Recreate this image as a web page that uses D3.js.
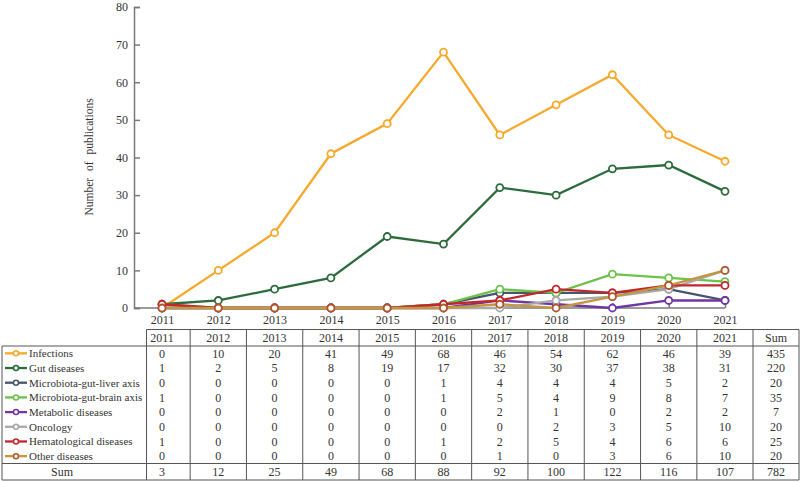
<!DOCTYPE html>
<html>
<head>
<meta charset="utf-8">
<script src="https://cdn.jsdelivr.net/npm/d3@7"></script>
<style>
  body { margin: 0; background: #fff; }
  svg text { font-family: 'Liberation Serif', 'DejaVu Serif', serif; }
</style>
</head>
<body>
<svg width="800" height="482"></svg>
<script>
const svg = d3.select('svg');
const FONT = "'Liberation Serif', 'DejaVu Serif', serif";

const years = [2011, 2012, 2013, 2014, 2015, 2016, 2017, 2018, 2019, 2020, 2021];
const seriesNames = ['Infections', 'Gut diseases', 'Microbiota-gut-liver axis', 'Microbiota-gut-brain axis',
  'Metabolic diseases', 'Oncology', 'Hematological diseases', 'Other diseases'];
const infections = [0, 10, 20, 41, 49, 68, 46, 54, 62, 46, 39];
const gut = [1, 2, 5, 8, 19, 17, 32, 30, 37, 38, 31];
const liver = [0, 0, 0, 0, 0, 1, 4, 4, 4, 5, 2];
const brain = [1, 0, 0, 0, 0, 1, 5, 4, 9, 8, 7];
const metabolic = [0, 0, 0, 0, 0, 0, 2, 1, 0, 2, 2];
const oncology = [0, 0, 0, 0, 0, 0, 0, 2, 3, 5, 10];
const hematological = [1, 0, 0, 0, 0, 1, 2, 5, 4, 6, 6];
const other = [0, 0, 0, 0, 0, 0, 1, 0, 3, 6, 10];
const yTicks = [0, 10, 20, 30, 40, 50, 60, 70, 80];

const lineColors = ['#f6a92c', '#2c6b3c', '#47566c', '#6cc24a', '#7036a4', '#a8a8a8', '#c1272d', '#c4963f'];
const markColors = ['#f6a92c', '#2c6b3c', '#47566c', '#6cc24a', '#7036a4', '#a8a8a8', '#c1272d', '#b0552c'];

const values = [infections, gut, liver, brain, metabolic, oncology, hematological, other];
const series = seriesNames.map((name, i) => ({
  name, vals: values[i], line: lineColors[i], mark: markColors[i]
}));
const sums = years.map((y, j) => d3.sum(values, v => v[j]));

/////////////// scales ///////////////
const x = d3.scalePoint().domain(years).range([162, 725]);
const y = d3.scaleLinear().domain([0, 80]).range([308, 7]);
const axisColor = '#7a7a7a';

// y axis
const yAxis = svg.append('g')
  .attr('transform', 'translate(134,0)')
  .call(d3.axisLeft(y).tickValues(yTicks).tickSize(-6).tickPadding(6));
yAxis.attr('font-family', FONT);
yAxis.select('.domain').attr('stroke', axisColor).attr('stroke-width', 1.5);
yAxis.selectAll('.tick line').attr('stroke', axisColor).attr('stroke-width', 1.5);
yAxis.selectAll('text').attr('font-size', 12).attr('fill', '#333');

// x axis
const xAxis = svg.append('g')
  .attr('transform', 'translate(0,308)')
  .call(d3.axisBottom(x).tickSize(-5).tickPadding(7).tickSizeOuter(0));
xAxis.attr('font-family', FONT);
xAxis.select('.domain').attr('d', `M134,0H${x(2021)}`).attr('stroke', axisColor).attr('stroke-width', 1.5);
xAxis.selectAll('.tick line').attr('stroke', axisColor).attr('stroke-width', 1.5);
xAxis.selectAll('text').attr('font-size', 12).attr('fill', '#333');

svg.append('text')
  .attr('transform', 'translate(93,157) rotate(-90)')
  .attr('text-anchor', 'middle')
  .attr('font-size', 11.5)
  .attr('fill', '#333')
  .attr('word-spacing', 4)
  .text('Number of publications');

/////////////// lines ///////////////
const line = d3.line().x((d, i) => x(years[i])).y(d => y(d));

const g = svg.append('g');
series.forEach(s => {
  g.append('path')
    .attr('d', line(s.vals))
    .attr('fill', 'none')
    .attr('stroke', s.line)
    .attr('stroke-width', 2.3);
  g.selectAll(null)
    .data(s.vals)
    .enter()
    .append('circle')
    .attr('cx', (d, i) => x(years[i]))
    .attr('cy', d => y(d))
    .attr('r', 3.5)
    .attr('fill', '#fff')
    .attr('stroke', s.mark)
    .attr('stroke-width', 1.8);
});

/////////////// table ///////////////
const tTop = 329.5, headBottom = 346, sumTop = 463.5, tBottom = 480;
const rowH = (sumTop - headBottom) / seriesNames.length;
const colW = 56;
const labelRight = 146.5;
const sumRight = 799;
const borderCol = '#555';

// column borders (midway between years)
const borders = [labelRight];
years.forEach((yr, i) => borders.push(i < years.length - 1 ? (x(yr) + x(years[i + 1])) / 2 : x(yr) + colW / 2));
borders.push(sumRight);

const tg = svg.append('g').attr('stroke', borderCol).attr('stroke-width', 1).attr('fill', 'none');
borders.forEach(bx => {
  tg.append('line').attr('x1', bx).attr('x2', bx).attr('y1', tTop).attr('y2', tBottom);
});
tg.append('line').attr('x1', 2).attr('x2', 2).attr('y1', headBottom).attr('y2', tBottom);
tg.append('line').attr('x1', labelRight).attr('x2', sumRight).attr('y1', tTop).attr('y2', tTop);
[headBottom, sumTop, tBottom].forEach(ly => {
  tg.append('line').attr('x1', 2).attr('x2', sumRight).attr('y1', ly).attr('y2', ly);
});

const colCenters = years.map(yr => x(yr));
const sumCenter = (borders[borders.length - 2] + sumRight) / 2;
const txt = svg.append('g').attr('font-size', 12).attr('fill', '#333').attr('font-family', FONT);

// header
years.forEach((yr, i) => {
  txt.append('text').attr('x', colCenters[i]).attr('y', (tTop + headBottom) / 2 + 4.3)
    .attr('text-anchor', 'middle').text(yr);
});
txt.append('text').attr('x', sumCenter).attr('y', (tTop + headBottom) / 2 + 4.3)
  .attr('text-anchor', 'middle').text('Sum');

// series rows
series.forEach((s, r) => {
  const cy = headBottom + rowH * (r + 0.5);
  svg.append('line').attr('x1', 5).attr('x2', 27).attr('y1', cy).attr('y2', cy)
    .attr('stroke', s.line).attr('stroke-width', 2.3);
  svg.append('circle').attr('cx', 16).attr('cy', cy).attr('r', 2.5)
    .attr('fill', '#fff').attr('stroke', s.mark).attr('stroke-width', 1.5);
  txt.append('text').attr('x', 29).attr('y', cy + 4).attr('font-size', 11).text(s.name);
  s.vals.forEach((v, i) => {
    txt.append('text').attr('x', colCenters[i]).attr('y', cy + 4.2).attr('text-anchor', 'middle').text(v);
  });
  txt.append('text').attr('x', sumCenter).attr('y', cy + 4.2).attr('text-anchor', 'middle').text(d3.sum(s.vals));
});

// sum row
const sy = (sumTop + tBottom) / 2 + 4.2;
txt.append('text').attr('x', 62).attr('y', sy).attr('text-anchor', 'middle').text('Sum');
sums.forEach((v, i) => {
  txt.append('text').attr('x', colCenters[i]).attr('y', sy).attr('text-anchor', 'middle').text(v);
});
txt.append('text').attr('x', sumCenter).attr('y', sy).attr('text-anchor', 'middle').text(d3.sum(sums));
</script>
</body>
</html>
